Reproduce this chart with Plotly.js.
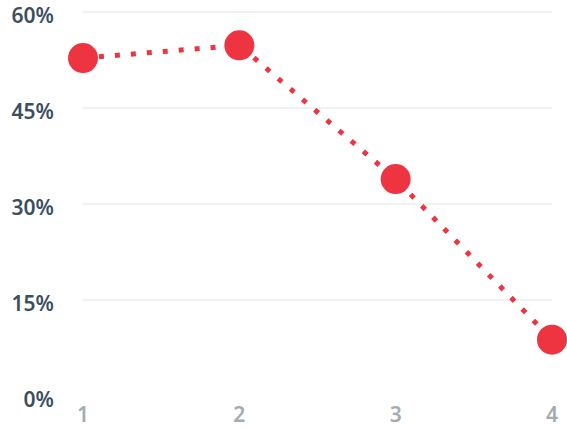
<!DOCTYPE html>
<html>
<head>
<meta charset="utf-8">
<script src="https://cdn.plot.ly/plotly-3.0.1.min.js"></script>
<style>html,body{margin:0;padding:0;background:#fff;}#chart{width:567px;height:430px;}</style>
</head>
<body>
<div id="chart"></div>
<script>
const categories = [1, 2, 3, 4];
const values = [52.8, 54.8, 33.9, 8.8];
const yTicks = [0, 15, 30, 45, 60];
const yTickText = ['0%', '15%', '30%', '45%', '60%'];
const xTickText = ['1', '2', '3', '4'];

const trace = {
  x: categories,
  y: values,
  type: 'scatter',
  mode: 'lines+markers',
  cliponaxis: false,
  line: { color: '#ee3440', width: 5, dash: '5px,11px' },
  marker: { color: '#ee3440', size: 30 },
  hoverinfo: 'none'
};

const layout = {
  width: 567,
  height: 430,
  margin: { l: 83, r: 15, t: 0, b: 34 },
  paper_bgcolor: '#ffffff',
  plot_bgcolor: '#ffffff',
  showlegend: false,
  xaxis: {
    range: [1, 4],
    tickmode: 'array',
    tickvals: categories,
    ticktext: xTickText,
    showgrid: false,
    zeroline: false,
    showline: false,
    ticks: '',
    ticklabelstandoff: 4,
    ticklabeloverflow: 'allow',
    tickfont: { family: 'Noto Sans', size: 21, color: '#a3acb2', weight: 600 }
  },
  yaxis: {
    range: [0, 61.875],
    tickmode: 'array',
    tickvals: yTicks,
    ticktext: yTickText,
    showgrid: true,
    gridcolor: '#f2f2f2',
    gridwidth: 2,
    zeroline: false,
    showline: false,
    ticks: '',
    ticklabelstandoff: 28,
    ticklabelshift: 4,
    ticklabeloverflow: 'allow',
    tickfont: { family: 'Noto Sans', size: 21, color: '#3d4f5c', weight: 600 }
  }
};

Plotly.newPlot('chart', [trace], layout, { displayModeBar: false, staticPlot: true });
</script>
</body>
</html>
